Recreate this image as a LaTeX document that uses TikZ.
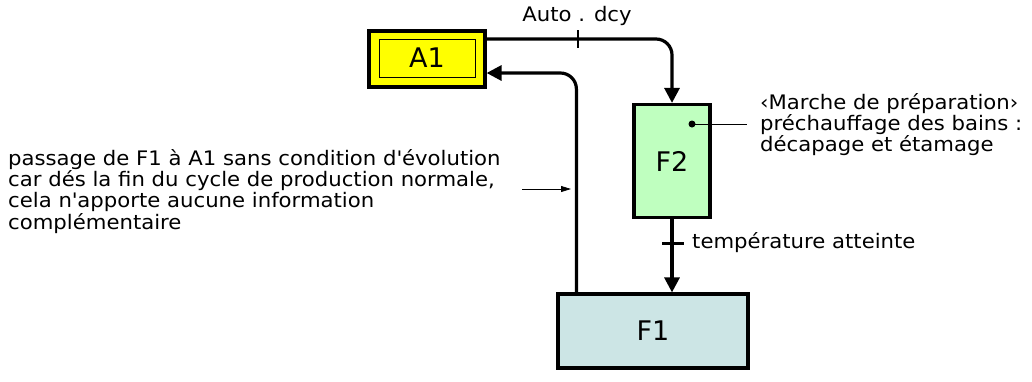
\documentclass[tikz,border=0pt]{standalone}
\usepackage{fontspec}
\setmainfont{DejaVu Sans}
\newfontfamily\widefont[FakeStretch=1.06]{DejaVu Sans}
\usetikzlibrary{arrows.meta}
\definecolor{ayellow}{HTML}{FFFF00}
\definecolor{fgreen}{HTML}{BFFFBF}
\definecolor{fblue}{HTML}{CCE5E5}
\tikzset{
  stepbox/.style={draw=black, line width=3.2pt, inner sep=0pt, font=\fontsize{27}{30}\selectfont},
  conn/.style={line width=3.2pt, -{Triangle[width=15pt,length=15pt]}},
  txt/.style={inner sep=0pt, font=\widefont\fontsize{20}{21.3}\selectfont, align=left},
}
\begin{document}
\begin{tikzpicture}[x=1pt,y=-1pt]
\useasboundingbox[fill=white] (0,0) rectangle (1032,381);
% steps
\node[stepbox, fill=ayellow, minimum width=116pt, minimum height=56pt] (A1) at (427,59) {};
\node[draw=black, line width=0.8pt, minimum width=96pt, minimum height=38pt, inner sep=0pt, font=\fontsize{27}{30}\selectfont] (A1in) at (427,58) {A1};
\node[stepbox, fill=fgreen, minimum width=76pt, minimum height=113pt] (F2) at (672,161) {F2};
\node[stepbox, fill=fblue, minimum width=190pt, minimum height=74pt] (F1) at (653,331) {F1};
% connectors
\draw[conn, rounded corners=16pt] ([yshift=20pt]A1.east) -| (F2.north);
\draw[line width=1.2pt] (578,30) -- (578,48);
\node[txt] (auto) at (577,16) {Auto . dcy};
\draw[conn] (F2.south) -- (F2.south |- F1.north);
\draw[line width=3pt] (662,243) -- (684,243);
\node[txt, anchor=west] (temp) at (692,243) {température atteinte};
\draw[conn, rounded corners=16pt] ([xshift=20pt]F1.north west) |- ([yshift=-14pt]A1.east);
% comment on F2
\fill (692,124) circle (3.5pt);
\coordinate (dot) at (692,124);
\coordinate (lend) at (747,124);
\draw[line width=0.8pt] (dot) -- (lend);
\node[txt, anchor=north west] (note) at (760,93) {‹Marche de préparation›\\préchauffage des bains :\\décapage et étamage};
% left comment
\node[txt, anchor=north west] (com) at (8,149) {passage de F1 à A1 sans condition d\textquotesingle évolution\\car dés la fin du cycle de production normale,\\cela n\textquotesingle apporte aucune information\\complémentaire};
\coordinate (ca) at (522,189);
\coordinate (cb) at (571,189);
\draw[line width=0.8pt, -{Triangle[width=6pt,length=10pt]}] (ca) -- (cb);
\end{tikzpicture}
\end{document}
